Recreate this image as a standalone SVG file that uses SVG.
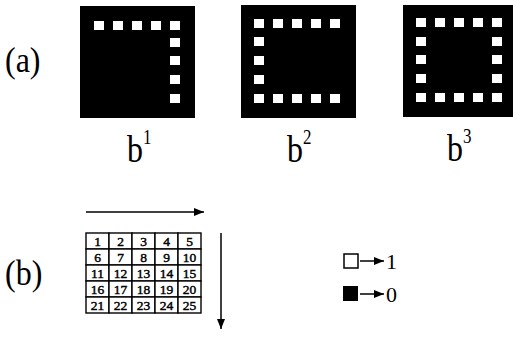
<svg xmlns="http://www.w3.org/2000/svg" width="513" height="345" viewBox="0 0 513 345">
<style>
text{font-family:"Liberation Serif","DejaVu Serif","Times New Roman",serif;fill:#000}
.big{font-size:32px}
.sup{font-size:17px}
.num{font-size:13.5px;text-anchor:middle;stroke:#000;stroke-width:0.45}
.sq{fill:#fff}
.ln{stroke:#000;stroke-width:1.5;fill:none}
.cell{fill:#fff;stroke:#000;stroke-width:1.4}
</style>
<defs>
<marker id="ah" viewBox="0 0 10 8" refX="10" refY="4" markerWidth="11" markerHeight="8" markerUnits="userSpaceOnUse" orient="auto">
<path d="M0,0 L10,4 L0,8 Z" fill="#000"/>
</marker>
</defs>
<text class="big" transform="translate(5,72) scale(1,1.15)">(a)</text>
<g id="b1">
<rect x="80" y="6" width="115" height="112" fill="#000"/>
<rect class="sq" x="94" y="21" width="10" height="9"/>
<rect class="sq" x="113" y="21" width="10" height="9"/>
<rect class="sq" x="132" y="21" width="10" height="9"/>
<rect class="sq" x="151" y="21" width="10" height="9"/>
<rect class="sq" x="170" y="21" width="10" height="9"/>
<rect class="sq" x="170" y="38" width="10" height="9"/>
<rect class="sq" x="170" y="56" width="10" height="9"/>
<rect class="sq" x="170" y="75" width="10" height="9"/>
<rect class="sq" x="170" y="94" width="10" height="9"/>
<text class="big" transform="translate(127,162) scale(1,1.2)">b<tspan class="sup" dy="-15">1</tspan></text>
</g>
<g id="b2">
<rect x="241" y="5" width="115" height="113" fill="#000"/>
<rect class="sq" x="254" y="19" width="10" height="9"/>
<rect class="sq" x="273" y="19" width="10" height="9"/>
<rect class="sq" x="292" y="19" width="10" height="9"/>
<rect class="sq" x="311" y="19" width="10" height="9"/>
<rect class="sq" x="330" y="19" width="10" height="9"/>
<rect class="sq" x="254" y="37" width="10" height="9"/>
<rect class="sq" x="254" y="56" width="10" height="9"/>
<rect class="sq" x="254" y="75" width="10" height="9"/>
<rect class="sq" x="254" y="94" width="10" height="9"/>
<rect class="sq" x="273" y="94" width="10" height="9"/>
<rect class="sq" x="292" y="94" width="10" height="9"/>
<rect class="sq" x="311" y="94" width="10" height="9"/>
<rect class="sq" x="330" y="94" width="10" height="9"/>
<text class="big" transform="translate(287,162) scale(1,1.2)">b<tspan class="sup" dy="-15">2</tspan></text>
</g>
<g id="b3">
<rect x="403" y="5" width="110" height="112" fill="#000"/>
<rect class="sq" x="416" y="18" width="10" height="9"/>
<rect class="sq" x="435" y="18" width="10" height="9"/>
<rect class="sq" x="454" y="18" width="10" height="9"/>
<rect class="sq" x="473" y="18" width="10" height="9"/>
<rect class="sq" x="492" y="18" width="10" height="9"/>
<rect class="sq" x="416" y="37" width="10" height="9"/>
<rect class="sq" x="492" y="37" width="10" height="9"/>
<rect class="sq" x="416" y="55" width="10" height="9"/>
<rect class="sq" x="492" y="55" width="10" height="9"/>
<rect class="sq" x="416" y="74" width="10" height="9"/>
<rect class="sq" x="492" y="74" width="10" height="9"/>
<rect class="sq" x="416" y="93" width="10" height="9"/>
<rect class="sq" x="435" y="93" width="10" height="9"/>
<rect class="sq" x="454" y="93" width="10" height="9"/>
<rect class="sq" x="473" y="93" width="10" height="9"/>
<rect class="sq" x="492" y="93" width="10" height="9"/>
<text class="big" transform="translate(447,161) scale(1,1.2)">b<tspan class="sup" dy="-15">3</tspan></text>
</g>
<text class="big" transform="translate(5,285) scale(1,1.15)">(b)</text>
<g id="grid">
<rect class="cell" x="86" y="233" width="23" height="16"/>
<rect class="cell" x="109" y="233" width="23" height="16"/>
<rect class="cell" x="132" y="233" width="23" height="16"/>
<rect class="cell" x="155" y="233" width="23" height="16"/>
<rect class="cell" x="178" y="233" width="23" height="16"/>
<rect class="cell" x="86" y="249" width="23" height="16"/>
<rect class="cell" x="109" y="249" width="23" height="16"/>
<rect class="cell" x="132" y="249" width="23" height="16"/>
<rect class="cell" x="155" y="249" width="23" height="16"/>
<rect class="cell" x="178" y="249" width="23" height="16"/>
<rect class="cell" x="86" y="265" width="23" height="16"/>
<rect class="cell" x="109" y="265" width="23" height="16"/>
<rect class="cell" x="132" y="265" width="23" height="16"/>
<rect class="cell" x="155" y="265" width="23" height="16"/>
<rect class="cell" x="178" y="265" width="23" height="16"/>
<rect class="cell" x="86" y="281" width="23" height="16"/>
<rect class="cell" x="109" y="281" width="23" height="16"/>
<rect class="cell" x="132" y="281" width="23" height="16"/>
<rect class="cell" x="155" y="281" width="23" height="16"/>
<rect class="cell" x="178" y="281" width="23" height="16"/>
<rect class="cell" x="86" y="297" width="23" height="16"/>
<rect class="cell" x="109" y="297" width="23" height="16"/>
<rect class="cell" x="132" y="297" width="23" height="16"/>
<rect class="cell" x="155" y="297" width="23" height="16"/>
<rect class="cell" x="178" y="297" width="23" height="16"/>
<text class="num" x="97.5" y="246">1</text>
<text class="num" x="120.5" y="246">2</text>
<text class="num" x="143.5" y="246">3</text>
<text class="num" x="166.5" y="246">4</text>
<text class="num" x="189.5" y="246">5</text>
<text class="num" x="97.5" y="262">6</text>
<text class="num" x="120.5" y="262">7</text>
<text class="num" x="143.5" y="262">8</text>
<text class="num" x="166.5" y="262">9</text>
<text class="num" x="189.5" y="262">10</text>
<text class="num" x="97.5" y="278">11</text>
<text class="num" x="120.5" y="278">12</text>
<text class="num" x="143.5" y="278">13</text>
<text class="num" x="166.5" y="278">14</text>
<text class="num" x="189.5" y="278">15</text>
<text class="num" x="97.5" y="294">16</text>
<text class="num" x="120.5" y="294">17</text>
<text class="num" x="143.5" y="294">18</text>
<text class="num" x="166.5" y="294">19</text>
<text class="num" x="189.5" y="294">20</text>
<text class="num" x="97.5" y="310">21</text>
<text class="num" x="120.5" y="310">22</text>
<text class="num" x="143.5" y="310">23</text>
<text class="num" x="166.5" y="310">24</text>
<text class="num" x="189.5" y="310">25</text>
</g>
<g id="connectors">
<line class="ln" x1="86" y1="212" x2="204" y2="212" marker-end="url(#ah)"/>
<line class="ln" x1="221" y1="233" x2="221" y2="329" marker-end="url(#ah)"/>
<line class="ln" x1="360" y1="261" x2="384" y2="261" marker-end="url(#ah)"/>
<line class="ln" x1="360" y1="294" x2="384" y2="294" marker-end="url(#ah)"/>
</g>
<g id="legend">
<rect x="344" y="254" width="14" height="14" fill="#fff" stroke="#000" stroke-width="1.5"/>
<text x="386" y="269" font-size="22">1</text>
<rect x="343" y="286" width="15" height="15" fill="#000"/>
<text x="386" y="302" font-size="22">0</text>
</g>
</svg>
